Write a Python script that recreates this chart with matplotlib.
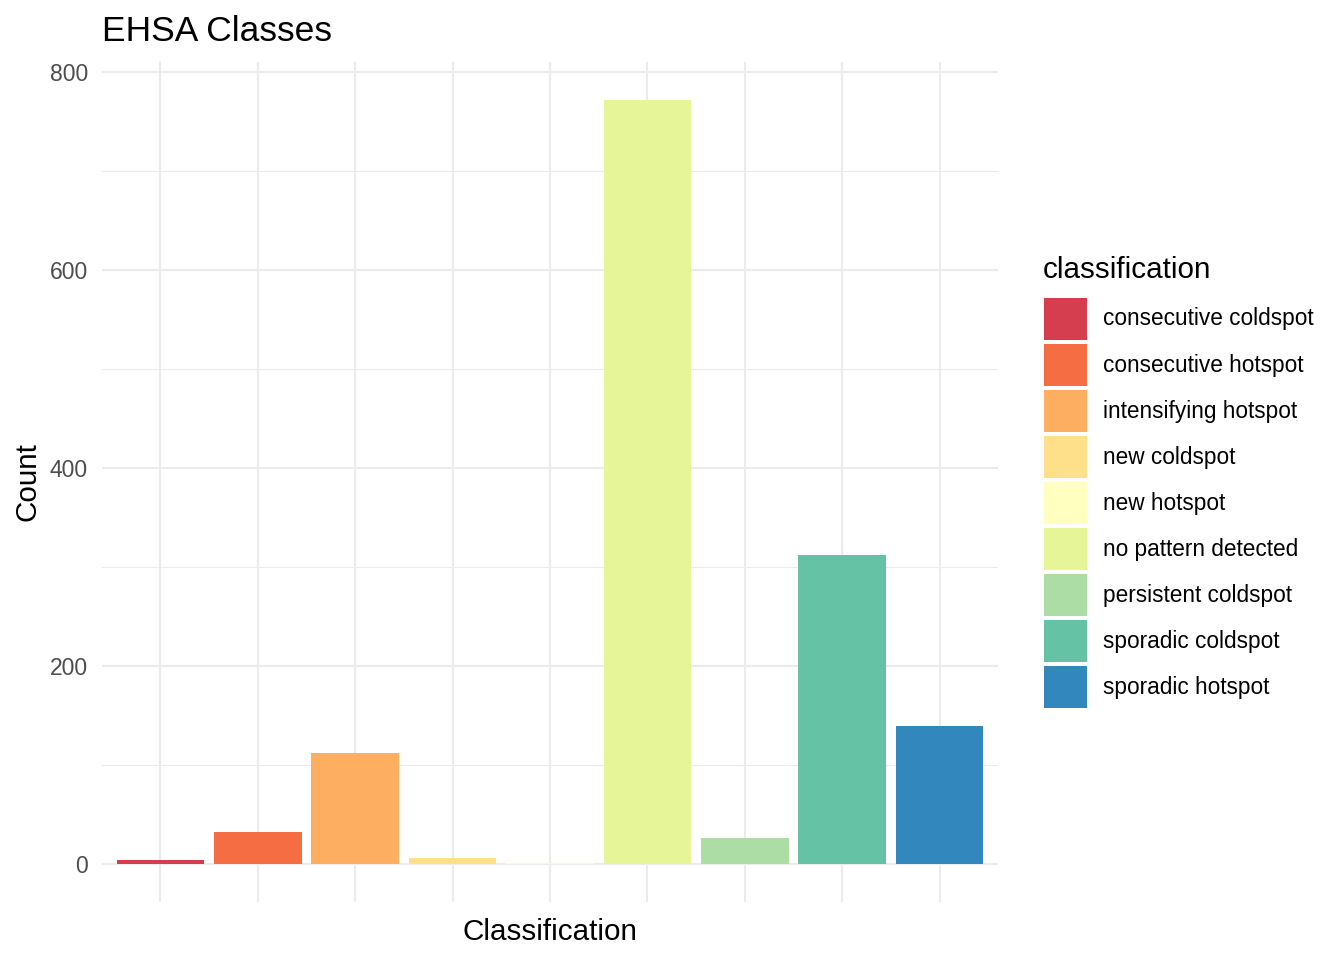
import matplotlib
matplotlib.use("Agg")
import matplotlib.pyplot as plt
from matplotlib.patches import Patch
from matplotlib.ticker import MultipleLocator

plt.rcParams['font.family'] = ['Liberation Sans', 'DejaVu Sans']

# data
classes = ["consecutive coldspot", "consecutive hotspot", "intensifying hotspot",
           "new coldspot", "new hotspot", "no pattern detected",
           "persistent coldspot", "sporadic coldspot", "sporadic hotspot"]
counts = [4, 32, 112, 6, 1, 772, 26, 312, 139]
colors = ["#D53E4F", "#F46D43", "#FDAE61", "#FEE08B", "#FFFFBF",
          "#E6F598", "#ABDDA4", "#66C2A5", "#3288BD"]

W, H = 1344, 960
fig = plt.figure(figsize=(W / 100, H / 100), dpi=100)
# panel in pixels: x 102-998, y 62-902
ax = fig.add_axes([102 / W, (H - 902) / H, 896 / W, 840 / H])

xpos = list(range(len(classes)))
ax.bar(xpos, counts, width=0.9, color=colors, zorder=3)

ymax = max(counts)
ax.set_xlim(-0.6, len(classes) - 0.4)
ax.set_ylim(-0.05 * ymax, ymax * 1.05)
ax.yaxis.set_major_locator(MultipleLocator(200))
ax.yaxis.set_minor_locator(MultipleLocator(100))
ax.set_xticks(xpos)
ax.set_xticklabels([])

ax.grid(which="major", color="#EBEBEB", linewidth=1.45, zorder=0)
ax.grid(which="minor", axis="y", color="#EBEBEB", linewidth=0.75, zorder=0)
ax.set_axisbelow(True)
for s in ax.spines.values():
    s.set_visible(False)
ax.tick_params(which="both", length=0)
ax.tick_params(axis="y", labelsize=16.5, labelcolor="#4D4D4D", pad=10)

ax.set_xlabel("Classification", fontsize=21.3, labelpad=8)
ax.set_ylabel("Count", fontsize=21.3, labelpad=6)
ax.set_title("EHSA Classes", fontsize=25.5, loc="left", pad=15)

# legend: title as separate text so the gap to the keys matches
fig.text(1043 / W, (H - 278) / H, "classification", fontsize=21.3,
         ha="left", va="baseline")
handles = [Patch(facecolor=c, edgecolor="none") for c in colors]
leg = fig.legend(handles, classes,
                 loc="center left", bbox_to_anchor=(1044 / W, (H - 503) / H),
                 frameon=False, fontsize=16.3,
                 handlelength=1.9, handleheight=2.48, labelspacing=0.18,
                 handletextpad=0.71, borderpad=0, borderaxespad=0)

fig.savefig("out.png", dpi=100, facecolor="white")
